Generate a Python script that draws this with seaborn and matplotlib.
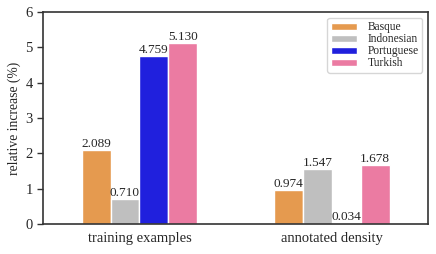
import numpy as np
import pandas as pd
import matplotlib
matplotlib.use("Agg")
import matplotlib.pyplot as plt
import seaborn as sns

features = ["training examples", "annotated density"]
languages = ["Basque", "Indonesian", "Portuguese", "Turkish"]
training_vals = [2.089, 0.710, 4.759, 5.130]
density_vals = [0.974, 1.547, 0.034, 1.678]
colors = ["#E59A4F", "#BFBFBF", "#2020DD", "#EB7BA2"]

df = pd.DataFrame({
    "feature": [features[0]] * 4 + [features[1]] * 4,
    "language": languages * 2,
    "value": training_vals + density_vals,
})

sns.set_style("white")
plt.rcParams["font.family"] = ["Liberation Serif", "DejaVu Serif"]

fig, ax = plt.subplots(figsize=(4.36, 2.54), dpi=100)
sns.barplot(data=df, x="feature", y="value", hue="language", order=features,
            hue_order=languages, palette=colors, width=0.6, saturation=1,
            edgecolor="white", linewidth=1.0, ax=ax)

for cont in ax.containers:
    ax.bar_label(cont, fmt="%.3f", fontsize=9.5, padding=0)

ax.set_ylim(0, 6)
ax.set_xlim(-0.5, 1.5)
ax.set_xlabel("")
ax.set_ylabel("relative increase (%)", fontsize=9.8, labelpad=3)
ax.tick_params(axis="y", labelsize=10.5, length=4, width=1.0, direction="out", left=True, color="#333333")
ax.tick_params(axis="x", labelsize=10.5, length=0, pad=6)
for s in ax.spines.values():
    s.set_color("#333333")
    s.set_linewidth(1.2)

leg = ax.legend(loc="upper right", fontsize=8.3, labelspacing=0.0, handlelength=2.3,
                handleheight=0.55, handletextpad=0.9, borderpad=0.3, frameon=True)
leg.get_frame().set_edgecolor("#cccccc")

fig.subplots_adjust(left=0.099, right=0.982, top=0.953, bottom=0.118)
fig.savefig("out.png", dpi=100)
